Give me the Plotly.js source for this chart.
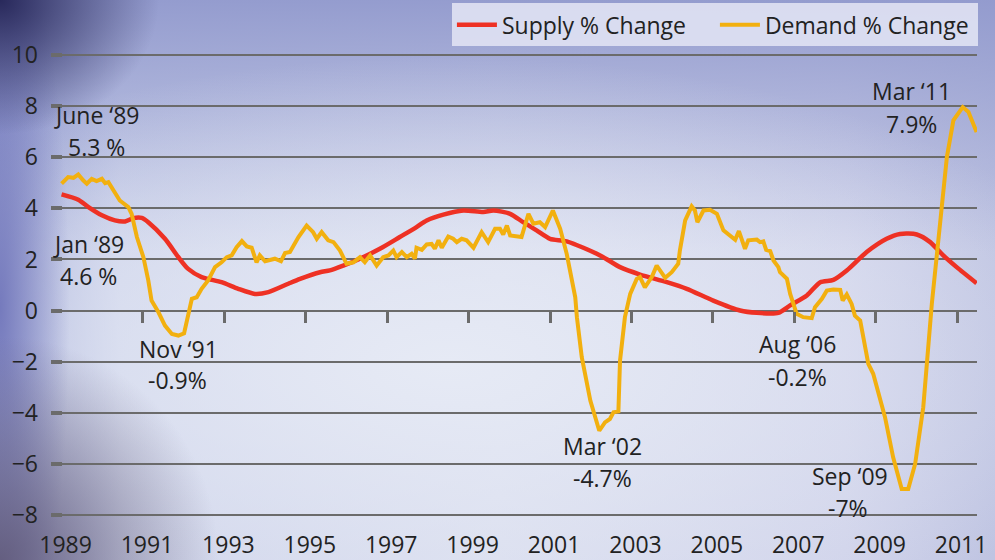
<!DOCTYPE html>
<html>
<head>
<meta charset="utf-8">
<script src="https://cdn.plot.ly/plotly-3.0.1.min.js"></script>
<style>
html, body { margin: 0; padding: 0; }
#chart {
  width: 995px; height: 560px;
  background:
    radial-gradient(ellipse 16% 24% at 0% 0%, rgba(35,35,85,0.95) 0%, rgba(35,35,85,0) 100%),
    radial-gradient(ellipse 22% 40% at 0% 100%, rgba(95,88,120,0.9) 0%, rgba(95,88,120,0) 100%),
    radial-gradient(ellipse 7% 70% at 0% 55%, rgba(110,115,185,0.9) 0%, rgba(110,115,185,0) 100%),
    radial-gradient(ellipse 70% 55% at 45% 65%, rgba(230,234,245,1) 0%, rgba(230,234,245,0) 100%),
    linear-gradient(to bottom, rgba(145,153,205,0.95) 0%, rgba(145,153,205,0) 45%),
    linear-gradient(to right, #a0a8d6 0%, #ccd2ea 12%, #d8dcee 50%, #cfd2ea 85%, #bfc4e2 100%);
}
</style>
</head>
<body>
<div id="chart"></div>
<script>
// Supply % change (red)
const supplyYear = [1989.0,1989.41,1989.66,1989.99,1990.31,1990.56,1990.76,1990.97,1991.13,1991.54,1991.87,1992.11,1992.44,1992.93,1993.34,1993.75,1994.08,1994.57,1994.86,1995.35,1995.59,1995.92,1996.33,1996.82,1997.31,1997.72,1997.97,1998.38,1998.87,1999.36,1999.61,2000.02,2000.34,2000.67,2001.0,2001.41,2002.23,2002.72,2003.21,2003.87,2004.36,2005.01,2005.67,2006.08,2006.61,2006.90,2007.31,2007.64,2007.96,2008.29,2008.78,2009.27,2009.60,2010.01,2010.34,2010.66,2010.99,2011.48];
const supplyVal = [4.55,4.34,4.05,3.73,3.53,3.49,3.62,3.63,3.46,2.81,2.09,1.63,1.31,1.11,0.85,0.65,0.72,1.05,1.24,1.50,1.57,1.76,2.03,2.42,2.88,3.27,3.53,3.76,3.92,3.86,3.92,3.79,3.46,3.14,2.81,2.71,2.16,1.70,1.41,1.11,0.85,0.39,0.0,-0.09,-0.09,0.2,0.59,1.11,1.2,1.57,2.29,2.81,3.0,2.98,2.68,2.16,1.70,1.07];

// Demand % change (yellow)
const demandYear = [1989.0,1989.16,1989.29,1989.41,1989.53,1989.62,1989.74,1989.86,1989.99,1990.07,1990.15,1990.31,1990.43,1990.64,1990.72,1990.85,1991.01,1991.13,1991.21,1991.38,1991.54,1991.71,1991.87,1992.01,1992.11,1992.20,1992.32,1992.44,1992.60,1992.77,1992.93,1993.06,1993.18,1993.30,1993.43,1993.55,1993.67,1993.79,1993.87,1994.00,1994.24,1994.39,1994.49,1994.61,1994.82,1995.02,1995.18,1995.27,1995.39,1995.55,1995.68,1995.84,1996.00,1996.17,1996.33,1996.45,1996.58,1996.74,1996.90,1997.03,1997.15,1997.23,1997.36,1997.48,1997.60,1997.68,1997.72,1997.85,1997.97,1998.09,1998.17,1998.26,1998.34,1998.50,1998.62,1998.71,1998.83,1998.95,1999.12,1999.32,1999.48,1999.65,1999.77,1999.85,1999.94,2000.02,2000.30,2000.47,2000.59,2000.75,2000.88,2001.07,2001.25,2001.41,2001.62,2001.66,2001.78,2001.99,2002.21,2002.35,2002.47,2002.56,2002.68,2002.72,2002.84,2002.97,2003.13,2003.21,2003.33,2003.50,2003.62,2003.71,2003.83,2003.99,2004.15,2004.19,2004.32,2004.48,2004.56,2004.62,2004.77,2004.93,2005.10,2005.26,2005.55,2005.64,2005.79,2005.87,2006.08,2006.16,2006.24,2006.31,2006.41,2006.49,2006.61,2006.65,2006.82,2006.90,2007.06,2007.22,2007.43,2007.51,2007.68,2007.80,2007.96,2008.13,2008.19,2008.29,2008.41,2008.49,2008.62,2008.82,2008.94,2009.23,2009.43,2009.64,2009.80,2009.97,2010.17,2010.38,2010.58,2010.75,2010.91,2011.14,2011.28,2011.48];
const demandVal = [4.97,5.23,5.2,5.33,5.1,4.97,5.16,5.07,5.16,4.99,5.03,4.58,4.31,4.05,3.79,2.88,2.09,1.18,0.39,-0.07,-0.59,-0.92,-0.98,-0.89,-0.26,0.46,0.52,0.85,1.18,1.70,1.89,2.09,2.16,2.48,2.72,2.51,2.46,1.89,2.16,1.93,2.03,1.93,2.25,2.29,2.88,3.33,3.07,2.81,3.07,2.75,2.68,2.35,1.83,1.89,2.09,1.89,2.16,1.76,2.09,2.16,2.35,2.09,2.29,2.09,2.22,2.03,2.46,2.38,2.59,2.61,2.42,2.75,2.46,2.90,2.81,2.68,2.81,2.75,2.46,3.07,2.68,3.20,3.20,2.98,3.33,2.94,2.88,3.79,3.40,3.46,3.27,3.92,3.2,2.22,0.52,-0.26,-1.83,-3.53,-4.71,-4.38,-4.25,-3.99,-3.95,-1.96,-0.26,0.65,1.24,1.31,0.91,1.31,1.76,1.57,1.28,1.50,1.83,2.35,3.53,4.08,3.92,3.46,3.92,3.95,3.79,3.14,2.77,3.11,2.42,2.75,2.78,2.68,2.71,2.38,2.33,1.96,1.70,1.5,1.24,0.65,-0.13,-0.26,-0.30,0.13,0.46,0.78,0.82,0.81,0.39,0.63,0.26,-0.2,-0.39,-2.09,-2.48,-4.18,-5.75,-6.99,-6.99,-6.01,-3.79,0.26,3.53,6.01,7.45,7.97,7.78,6.99];

const yTicks = [-8,-6,-4,-2,0,2,4,6,8,10];
const xLabelYears = [1989,1991,1993,1995,1997,1999,2001,2003,2005,2007,2009,2011];
const xTickYears = [1991,1993,1995,1997,1999,2001,2003,2005,2007,2009,2011];

// Callout labels
const noteText = ['June \u201889','5.3 %','Jan \u201889','4.6 %','Nov \u201891','-0.9%','Mar \u201802','-4.7%','Aug \u201806','-0.2%','Sep \u201809','-7%','Mar \u201811','7.9%'];
const noteYear = [1989.85,1989.85,1989.65,1989.65,1991.88,1991.86,2002.30,2002.30,2007.09,2007.09,2008.37,2008.32,2009.89,2009.89];
const noteVal  = [7.67,6.42,2.62,1.37,-1.49,-2.74,-5.32,-6.57,-1.33,-2.62,-6.49,-7.75,8.61,7.32];

const FONT = 'Open Sans, Noto Sans, sans-serif';
const TXT = '#222222';
const GRID = '#6b6b6b';
const FS = 23;
const XR = [1988.74, 2011.49];

const traces = [
  {x: supplyYear, y: supplyVal, type: 'scatter', mode: 'lines', name: 'Supply % Change',
   line: {color: '#ee3124', width: 4.5, shape: 'spline', smoothing: 0.7}},
  {x: demandYear, y: demandVal, type: 'scatter', mode: 'lines', name: 'Demand % Change',
   line: {color: '#f2b00f', width: 4}},
  {x: [], y: [], xaxis: 'x2', type: 'scatter', mode: 'lines', showlegend: false, hoverinfo: 'skip'}
];

const annotations = noteText.map((t, i) => ({
  x: noteYear[i], y: noteVal[i], xref: 'x', yref: 'y', text: t, showarrow: false,
  xanchor: 'center', yanchor: 'middle', font: {family: FONT, size: FS, color: TXT}
}));

const layout = {
  width: 995, height: 560,
  margin: {l: 51, r: 18, t: 53.7, b: 43.7, pad: 0, autoexpand: false},
  paper_bgcolor: 'rgba(0,0,0,0)',
  plot_bgcolor: 'rgba(0,0,0,0)',
  font: {family: FONT, size: FS, color: TXT},
  showlegend: true,
  legend: {
    orientation: 'h', x: 1.001, xanchor: 'right', y: 1.1096, yanchor: 'top',
    bgcolor: 'rgba(222,225,242,0.92)', borderwidth: 0, itemwidth: 40,
    entrywidth: 208, entrywidthmode: 'pixels',
    font: {family: FONT, size: FS, color: TXT}, traceorder: 'normal'
  },
  xaxis: {
    range: XR, tickmode: 'array', tickvals: xLabelYears, ticktext: xLabelYears.map(String),
    showgrid: false, zeroline: false, showline: false, ticks: '',
    ticklabelstandoff: 13, ticklabelshift: 4,
    tickfont: {family: FONT, size: FS, color: TXT}
  },
  xaxis2: {
    overlaying: 'x', matches: 'x', anchor: 'free', position: 8.05 / 18.1, side: 'bottom',
    range: XR, tickmode: 'array', tickvals: xTickYears, showticklabels: false,
    ticks: 'outside', ticklen: 11, tickwidth: 3, tickcolor: GRID,
    showgrid: false, zeroline: false, showline: false
  },
  yaxis: {
    range: [-8.05, 10.05], tickmode: 'array', tickvals: yTicks,
    showgrid: true, gridcolor: GRID, gridwidth: 2,
    zeroline: true, zerolinecolor: GRID, zerolinewidth: 2,
    showline: false, ticks: 'inside', ticklen: 11, tickwidth: 4, tickcolor: GRID,
    ticklabelstandoff: 12,
    tickfont: {family: FONT, size: FS, color: TXT}
  },
  annotations: annotations
};

Plotly.newPlot('chart', traces, layout, {displayModeBar: false, staticPlot: true});
</script>
</body>
</html>
